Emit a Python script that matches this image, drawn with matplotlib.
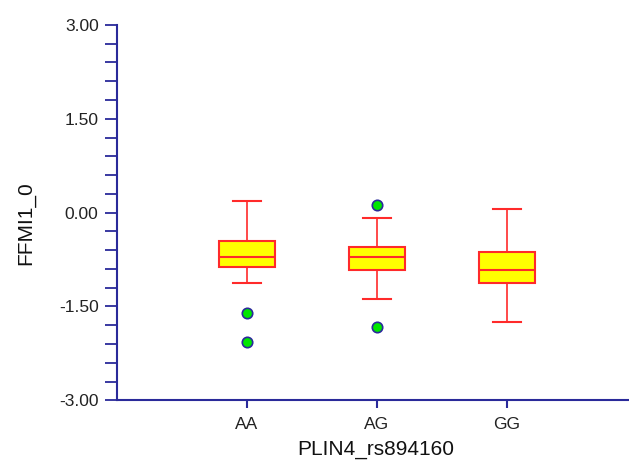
import matplotlib
matplotlib.use("Agg")
import matplotlib.pyplot as plt
from matplotlib.ticker import MultipleLocator, FormatStrFormatter

plt.rcParams['font.family'] = ['Liberation Sans', 'DejaVu Sans']

# genotype groups and box statistics
genotypes = ["AA", "AG", "GG"]
medians = [-0.707, -0.712, -0.914]
q1 = [-0.876, -0.915, -1.127]
q3 = [-0.451, -0.552, -0.631]
whisker_low = [-1.122, -1.383, -1.751]
whisker_high = [0.179, -0.083, 0.051]
outliers = [[-1.602, -2.075], [0.120, -1.828], []]

navy = "#2a2a9a"
red = "#ff2a2a"

stats = []
for i, g in enumerate(genotypes):
    stats.append(dict(label=g, med=medians[i], q1=q1[i], q3=q3[i],
                      whislo=whisker_low[i], whishi=whisker_high[i],
                      fliers=outliers[i]))

fig = plt.figure(figsize=(6.29, 4.62), dpi=100)
ax = fig.add_axes([0.1855, 0.1335, 0.8145, 0.8125])

ax.bxp(stats, positions=[1, 2, 3], widths=0.43, patch_artist=True,
       boxprops=dict(facecolor="#ffff00", edgecolor=red, linewidth=1.5),
       medianprops=dict(color=red, linewidth=1.5),
       whiskerprops=dict(color=red, linewidth=1.2),
       capprops=dict(color=red, linewidth=1.5),
       flierprops=dict(marker="o", markerfacecolor="#00e600",
                       markeredgecolor=navy, markersize=7.5, markeredgewidth=1.2))
ax.set_xlim(0, 3.94)
ax.set_ylim(-3, 3)

ax.yaxis.set_major_locator(MultipleLocator(1.5))
ax.yaxis.set_minor_locator(MultipleLocator(0.3))
ax.yaxis.set_major_formatter(FormatStrFormatter("%.2f"))
ax.set_xticks([1, 2, 3])
ax.set_xticklabels(genotypes)

for s in ["top", "right"]:
    ax.spines[s].set_visible(False)
for s in ["left", "bottom"]:
    ax.spines[s].set_color(navy)
    ax.spines[s].set_linewidth(1.5)

ax.tick_params(axis="y", which="both", direction="out", length=9, width=1.3,
               color=navy, labelsize=12.5, pad=4, labelcolor="#222222")
ax.tick_params(axis="x", direction="out", length=6, width=1.5,
               color=navy, labelsize=12.5, pad=6, labelcolor="#222222")

ax.set_ylabel("FFMI1_0", fontsize=15, color="#111111")
ax.set_xlabel("PLIN4_rs894160", fontsize=15, color="#111111")
ax.yaxis.set_label_coords((35 - 116.7) / (629 - 116.7), 0.473)
ax.xaxis.set_label_coords((376 - 116.7) / (629 - 116.7), -0.106)

fig.savefig("out.png", dpi=100)
